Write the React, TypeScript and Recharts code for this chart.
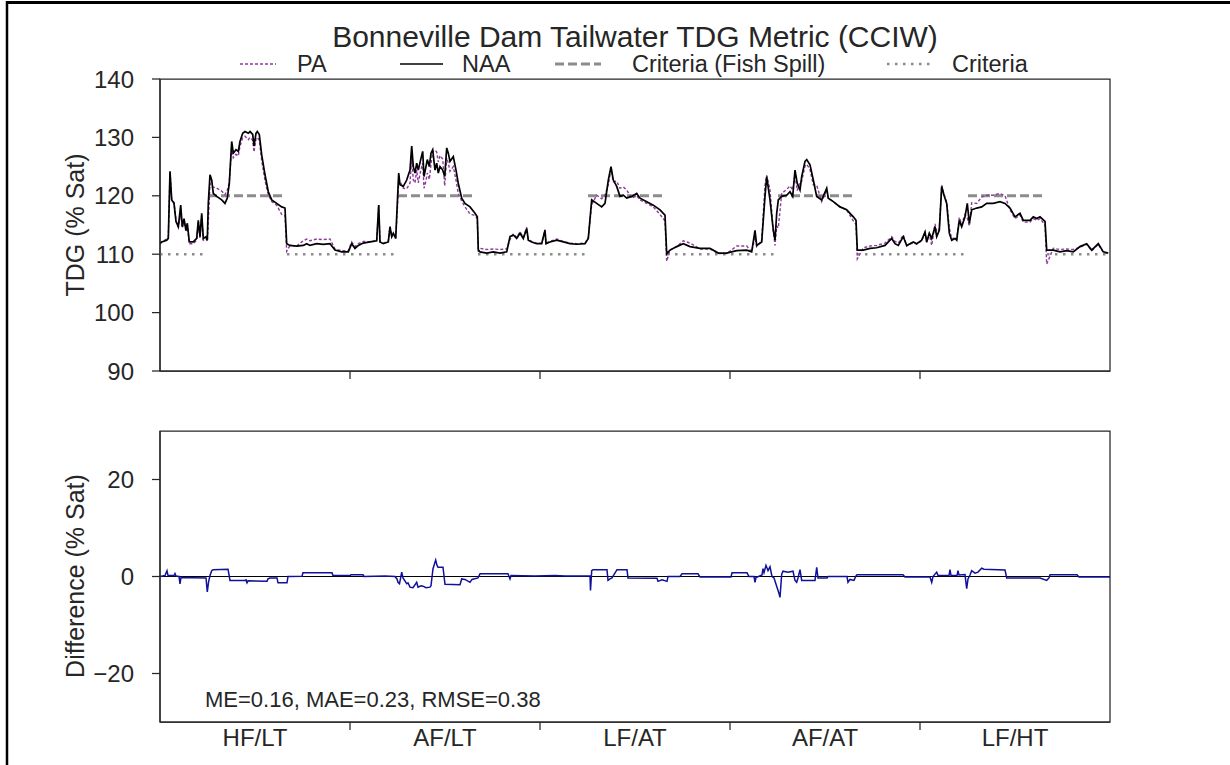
import React from 'react';
import { LineChart, Line, XAxis, YAxis, ReferenceArea, ReferenceLine } from 'recharts';

// Time index: 190 steps per scenario, 5 scenarios
const scenarioLabels = ['HF/LT', 'AF/LT', 'LF/AT', 'AF/AT', 'LF/HT'];
const scenarioBoundaries = [190, 380, 570, 760];
const scenarioCenters = [95, 285, 475, 665, 855];

const timeSteps = [
  0, 1.7, 6.7, 8.3, 10, 11.7, 14, 16, 18.3, 20.7, 22.3, 24, 26, 27.3, 29.3, 33.3, 36.7, 38.3, 40, 41.7,
  43.3, 46, 47.3, 48.3, 50, 51.7, 53.3, 56.7, 61.7, 65, 67.3, 69.3, 71.7, 73.3, 76, 78.3, 80, 82.7, 85, 88.3,
  90, 92.7, 94, 96, 97.3, 99.3, 101.7, 105, 108.3, 111.7, 116.7, 121.7, 125, 126.7, 130, 136.7, 143.3, 146.7, 150, 156.7,
  163.3, 170, 175, 181.7, 188.3, 191.7, 195, 198.3, 203.3, 210, 216.7, 218.7, 220, 223.3, 228.3, 230, 231.7, 233.3, 235.7, 237.3,
  238.7, 240, 243.3, 246.7, 250, 251.7, 253.3, 255, 256.7, 258.3, 260.7, 262.7, 264, 265.3, 267.3, 269.3, 271, 272.7, 275, 276.7,
  278.3, 280, 282.7, 284.7, 286.7, 288.3, 290, 293.3, 296, 298.3, 301.7, 305, 310, 315, 317.3, 318.3, 320, 326.7, 333.3, 340,
  346.7, 350, 353.3, 356.7, 360, 363.3, 366.7, 368.3, 371.7, 376.7, 381.7, 385, 386, 390, 396.7, 403.3, 410, 416.7, 425, 428.3,
  431.7, 436.7, 441.7, 445, 448.3, 451, 453.3, 456.7, 460, 463.3, 466.7, 471.7, 476.7, 480, 486.7, 493.3, 500, 505, 506.7, 510,
  516.7, 523.3, 530, 540, 550, 558.3, 566.7, 576.7, 586.7, 591.7, 595, 596.7, 601.7, 605, 606.7, 610, 613.3, 615, 616.7, 618.3,
  621.7, 626.7, 630, 632.7, 635, 637.3, 640, 641.7, 645, 646.7, 650, 653.3, 656.7, 661.7, 666.7, 668.3, 673.3, 680, 686.7, 693.3,
  696, 697.3, 703.3, 710, 716.7, 725, 731.7, 735, 738.3, 743.3, 746.7, 753.3, 756.7, 761.7, 765, 766.7, 769.3, 771.7, 775, 776.7,
  779.3, 781.7, 784, 786.7, 789.3, 791.7, 795, 796.7, 799.3, 801.7, 805, 807.3, 809.3, 811.7, 816.7, 821.7, 826.7, 833.3, 840, 845,
  850, 855, 860, 863.3, 870, 873.3, 876.7, 880, 885, 886.7, 893.3, 900, 906.7, 913.3, 920, 926.7, 931.7, 938.3, 943.3, 948.3,
];

const naaValues = [
  111.8, 112.1, 112.4, 112.7, 124.2, 119.3, 118.7, 115.6, 114.7, 118.4, 114.7, 116.1, 114.1, 115.3, 112.1, 112.1, 112.7, 115.8, 113.0, 117.0,
  112.7, 113.0, 112.4, 118.7, 123.6, 122.7, 120.4, 119.9, 119.3, 118.7, 119.6, 122.1, 129.3, 127.3, 127.9, 127.6, 129.3, 130.7, 131.0, 130.7,
  131.0, 130.5, 128.5, 130.7, 131.0, 130.5, 127.0, 123.6, 120.7, 119.3, 118.7, 118.1, 117.9, 111.8, 111.5, 111.4, 111.5, 111.8, 111.5, 111.8,
  111.7, 111.8, 110.7, 110.4, 110.4, 111.8, 111.0, 111.5, 111.9, 112.1, 112.3, 118.4, 112.1, 111.8, 112.1, 114.7, 113.0, 113.6, 112.7, 118.7,
  123.9, 121.9, 121.6, 122.7, 124.4, 128.5, 125.0, 123.9, 125.6, 124.4, 126.2, 127.6, 123.3, 124.4, 126.2, 125.0, 127.3, 127.9, 124.4, 125.6,
  123.9, 125.0, 124.4, 123.3, 128.2, 127.3, 125.9, 126.7, 124.4, 122.1, 119.6, 118.7, 118.1, 117.0, 116.4, 110.7, 110.4, 110.2, 110.4, 110.2,
  110.4, 113.0, 113.3, 112.7, 113.6, 112.7, 114.4, 112.4, 112.1, 111.8, 111.8, 114.1, 111.8, 112.1, 112.4, 112.1, 111.8, 111.7, 111.8, 112.7,
  119.3, 118.7, 118.1, 118.7, 122.7, 125.0, 122.7, 121.6, 119.9, 120.1, 119.6, 119.9, 120.4, 119.6, 119.0, 118.4, 117.6, 116.7, 110.1, 110.7,
  111.3, 111.8, 111.3, 111.0, 111.0, 110.2, 110.2, 110.6, 110.7, 110.4, 114.1, 111.5, 112.1, 119.9, 123.3, 119.3, 114.1, 112.4, 117.0, 119.3,
  119.9, 120.1, 120.7, 119.9, 124.4, 122.1, 121.0, 123.3, 125.9, 126.2, 125.3, 122.7, 119.9, 119.3, 121.3, 119.6, 119.0, 118.1, 117.6, 116.4,
  115.8, 110.7, 110.7, 111.0, 111.1, 111.5, 112.7, 111.8, 111.5, 113.0, 111.5, 112.1, 111.8, 112.4, 113.8, 112.1, 113.6, 112.7, 114.7, 113.0,
  114.1, 121.6, 120.1, 118.7, 113.6, 112.4, 112.7, 112.4, 115.8, 114.7, 116.4, 118.7, 115.3, 117.6, 117.9, 118.1, 118.7, 118.7, 119.0, 118.7,
  117.9, 116.4, 117.0, 115.8, 115.8, 116.4, 116.1, 116.4, 115.6, 110.7, 110.7, 110.4, 110.6, 110.4, 111.3, 111.8, 110.7, 111.8, 110.4, 110.2,
];

const paValues = [
  111.8, 112.1, 112.6, 112.9, 124.0, 119.4, 118.9, 115.8, 114.6, 116.9, 114.5, 115.8, 113.8, 115.0, 111.8, 111.8, 112.4, 115.5, 112.7, 116.7,
  112.4, 112.7, 112.2, 115.5, 122.1, 121.6, 121.5, 121.3, 120.8, 120.2, 121.0, 122.3, 128.5, 126.5, 127.1, 126.8, 128.5, 129.9, 130.2, 129.6,
  130.0, 129.5, 127.5, 129.7, 130.0, 129.5, 126.0, 122.6, 120.2, 119.0, 118.4, 116.8, 116.6, 110.5, 111.5, 111.4, 112.3, 112.6, 112.3, 112.6,
  112.5, 112.6, 110.9, 110.6, 110.6, 112.1, 111.3, 111.8, 112.2, 112.1, 112.3, 118.4, 112.1, 111.9, 112.2, 114.7, 113.0, 113.6, 112.7, 117.5,
  122.4, 122.5, 121.3, 121.2, 122.2, 126.3, 122.7, 122.2, 124.4, 122.2, 124.3, 125.6, 121.3, 122.1, 123.9, 122.8, 125.4, 127.6, 127.8, 127.5,
  125.8, 126.9, 126.3, 121.7, 126.5, 125.6, 124.2, 125.0, 122.7, 120.4, 119.1, 118.1, 116.9, 116.6, 116.1, 110.4, 111.0, 110.8, 110.9, 110.8,
  110.9, 112.5, 113.5, 112.9, 113.8, 112.9, 114.6, 112.5, 112.2, 111.9, 111.9, 114.2, 111.9, 112.2, 112.6, 112.2, 111.9, 111.8, 111.9, 112.8,
  118.5, 120.1, 119.5, 120.1, 121.9, 124.5, 122.4, 122.5, 121.3, 121.5, 121.0, 119.6, 120.0, 119.3, 118.7, 118.1, 116.8, 115.7, 108.8, 110.7,
  111.3, 112.3, 111.9, 110.9, 110.9, 110.1, 110.1, 111.4, 111.4, 110.4, 112.9, 111.3, 112.4, 121.8, 123.5, 121.0, 113.9, 111.5, 114.8, 114.5,
  120.4, 121.1, 121.7, 121.0, 123.6, 120.9, 122.4, 122.5, 125.1, 125.4, 124.5, 121.9, 121.8, 119.0, 121.0, 119.6, 119.0, 118.1, 117.6, 115.7,
  115.1, 109.2, 111.1, 111.4, 111.5, 111.9, 113.0, 112.2, 111.9, 113.3, 111.4, 112.0, 111.7, 112.3, 113.7, 112.0, 113.5, 111.5, 115.2, 113.9,
  114.3, 121.8, 120.3, 118.9, 114.5, 112.6, 112.9, 112.6, 116.3, 115.1, 116.8, 116.2, 114.8, 118.8, 118.7, 119.8, 120.1, 120.1, 120.4, 120.0,
  117.6, 116.1, 116.7, 115.5, 115.5, 116.1, 115.8, 116.1, 115.0, 108.3, 111.0, 110.8, 110.9, 110.8, 111.2, 111.7, 110.6, 111.7, 110.3, 110.1,
];

// Difference PA - NAA
const diffTimes = [
  0, 5, 7, 8, 14, 15, 16, 19, 20, 21, 46, 47.3, 48.5, 50, 51.7, 53, 68, 69, 70, 85,
  86, 87, 88, 107, 108, 110, 117, 118, 127, 128, 142, 143, 172, 173, 190, 191, 203, 204, 225, 235,
  237, 238, 239.5, 241.7, 243, 246.7, 248, 250, 253, 256.7, 258, 261, 263, 266, 270, 271, 273, 275.7, 277, 278,
  283, 285, 300, 301.7, 305, 310, 312, 318, 320, 348, 350, 351, 375, 395, 405, 430, 430.5, 431.7, 433, 447,
  448, 450, 452, 457, 467, 468, 497, 498, 502, 507, 508, 520, 522, 538, 540, 571, 572, 587, 589, 594,
  595, 596, 602, 603, 604, 606, 608, 610, 612, 614, 617, 619, 620, 621.7, 623, 628, 633, 635, 636.7, 638,
  640, 641.7, 655, 656.7, 658, 667, 668, 687, 688, 690, 694, 696, 697, 743, 745, 770, 771.7, 773, 776.7, 778,
  789, 790, 791, 797, 798, 799, 805, 806.7, 808, 810, 811.7, 815, 818, 821.7, 824, 845, 846.7, 880, 886.7, 889,
  890, 917, 919, 950,
];

const diffValues = [
  0, 0.2, 1.2, 0.2, 0.2, 0.6, 0.1, 0, -1.5, -0.2, -0.3, -3.2, -1.2, 0.2, 1.2, 1.4, 1.5, 0.4, -0.8, -0.8,
  -0.7, -1.3, -0.9, -1.0, -0.5, -0.3, -0.3, -1.3, -1.3, 0, 0.05, 0.75, 0.75, 0.2, 0.2, 0.35, 0.35, 0, 0.1, 0,
  -0.5, -1.2, -1.5, 0.9, -0.3, -1.5, -1.3, -2.2, -2.3, -1.2, -2.2, -1.9, -2.0, -2.3, -2.2, -1.9, 1.6, 3.4, 2.3, 1.9,
  1.9, -1.6, -1.7, -0.5, -0.6, -1.2, -0.6, -0.3, 0.55, 0.55, -0.5, 0.2, 0.1, 0.2, 0.1, 0.1, -2.9, 1.2, 1.4, 1.4,
  -0.8, -0.5, -0.3, 1.4, 1.4, -0.3, -0.35, -1.0, -0.7, -1.0, 0, 0, 0.55, 0.55, -0.1, -0.1, 0.75, 0.75, 0, 0,
  -1.2, -0.2, 0.3, 1.6, 0.8, 2.3, 1.2, 2.0, 0, -0.3, -2.2, -3.5, -4.3, 0.5, 1.1, 0.9, 1.1, -0.8, -1.2, -0.3,
  1.4, -0.8, -0.8, 1.9, -0.3, -0.3, 0, 0, -1.2, -0.6, -0.8, 0.1, 0.35, 0.35, -0.1, -0.1, -1.2, 0, 0.9, 0.2,
  0.2, 1.4, 0.2, 0.2, 1.2, 0.3, 0.4, -2.5, -0.5, 0.3, 1.2, 0.7, 0.9, 1.7, 1.5, 1.35, -0.3, -0.3, -0.8, -0.3,
  0.35, 0.35, -0.1, -0.1,
];

// Criteria periods (time index)
const fishSpillStarts = [48, 238, 428, 618, 808];
const fishSpillEnds = [125, 315, 505, 695, 885];
const fishSpillLevel = 120;
const criteriaStarts = [0, 127, 318, 507, 697, 887];
const criteriaEnds = [45, 237, 427, 617, 807, 950];
const criteriaLevel = 110;

const metricsText = 'ME=0.16, MAE=0.23, RMSE=0.38';

const mainData = timeSteps.map((t, i) => ({ t, pa: paValues[i], naa: naaValues[i] }));
const diffData = diffTimes.map((t, i) => ({ t, diff: diffValues[i] }));

function segments(starts: number[], ends: number[], level: number) {
  const out: { t: number; v: number | null }[] = [];
  starts.forEach((s, i) => {
    out.push({ t: s, v: level });
    out.push({ t: ends[i], v: level });
    if (i < starts.length - 1) out.push({ t: ends[i] + 0.5, v: null });
  });
  return out;
}
const fishSpillData = segments(fishSpillStarts, fishSpillEnds, fishSpillLevel);
const criteriaData = segments(criteriaStarts, criteriaEnds, criteriaLevel);

const FONT = '"Liberation Sans", Arial, Helvetica, sans-serif';
const TEXT = '#262626';
const SPINE = '#262626';

const xTicks = [...scenarioCenters, ...scenarioBoundaries].sort((a, b) => a - b);

const makeXTick = (showLabels: boolean) => (props: any) => {
  const { x, y, payload } = props;
  const v = payload.value;
  const bi = scenarioBoundaries.indexOf(v);
  if (bi >= 0) {
    return <line x1={x} x2={x} y1={y - 8} y2={y} stroke={SPINE} strokeWidth={1.25} />;
  }
  const ci = scenarioCenters.indexOf(v);
  if (!showLabels || ci < 0) return <g />;
  return (
    <text x={x} y={y + 16} textAnchor="middle" fill={TEXT} fontSize={24} fontFamily={FONT}>
      {scenarioLabels[ci]}
    </text>
  );
};

const fmtDiff = (v: number) => (v < 0 ? '\u2212' + Math.abs(v) : String(v));

export default function App() {
  return (
    <div style={{ position: 'absolute', left: 0, top: 0, width: 1230, height: 765, background: '#fff', fontFamily: FONT }}>
      <div style={{ position: 'absolute', left: 0, top: 0 }}>
        <LineChart width={1230} height={410} margin={{ top: 79, right: 120, bottom: 9, left: 100 }}>
          <XAxis
            dataKey="t"
            type="number"
            domain={[0, 950]}
            ticks={xTicks}
            interval={0}
            allowDataOverflow
            height={30}
            tickLine={false}
            tickSize={8}
            tickMargin={0}
            tick={makeXTick(false)}
            axisLine={{ stroke: SPINE, strokeWidth: 1.25 }}
          />
          <YAxis
            type="number"
            domain={[90, 140]}
            ticks={[90, 100, 110, 120, 130, 140]}
            interval={0}
            width={60}
            tickSize={8}
            tickMargin={18}
            tickLine={{ stroke: SPINE, strokeWidth: 1.25 }}
            axisLine={{ stroke: SPINE, strokeWidth: 1.25 }}
            tick={{ fill: TEXT, fontSize: 24, fontFamily: FONT }}
          />
          <Line data={criteriaData} dataKey="v" stroke="#8c8c8c" strokeWidth={2.6} strokeDasharray="2.5 5.5" dot={false} isAnimationActive={false} connectNulls={false} />
          <Line data={fishSpillData} dataKey="v" stroke="#8c8c8c" strokeWidth={3} strokeDasharray="9 4" dot={false} isAnimationActive={false} connectNulls={false} />
          <Line data={mainData} dataKey="pa" stroke="#8e3a9d" strokeWidth={1.4} strokeDasharray="3 2" dot={false} isAnimationActive={false} />
          <Line data={mainData} dataKey="naa" stroke="#000" strokeWidth={1.7} dot={false} isAnimationActive={false} />
          <ReferenceArea x1={0} x2={950} y1={90} y2={140} fill="none" fillOpacity={0} stroke={SPINE} strokeWidth={1.25} />
        </LineChart>
      </div>
      <div style={{ position: 'absolute', left: 0, top: 400 }}>
        <LineChart width={1230} height={365} margin={{ top: 31, right: 120, bottom: 13, left: 100 }}>
          <XAxis
            dataKey="t"
            type="number"
            domain={[0, 950]}
            ticks={xTicks}
            interval={0}
            allowDataOverflow
            height={30}
            tickLine={false}
            tickSize={8}
            tickMargin={0}
            tick={makeXTick(true)}
            axisLine={{ stroke: SPINE, strokeWidth: 1.25 }}
          />
          <YAxis
            type="number"
            domain={[-30, 30]}
            ticks={[-20, 0, 20]}
            interval={0}
            width={60}
            tickSize={8}
            tickMargin={18}
            tickFormatter={fmtDiff}
            tickLine={{ stroke: SPINE, strokeWidth: 1.25 }}
            axisLine={{ stroke: SPINE, strokeWidth: 1.25 }}
            tick={{ fill: TEXT, fontSize: 24, fontFamily: FONT }}
          />
          <ReferenceLine y={0} stroke="#000" strokeWidth={1.2} />
          <Line data={diffData} dataKey="diff" stroke="#10109a" strokeWidth={1.5} dot={false} isAnimationActive={false} />
          <ReferenceArea x1={0} x2={950} y1={-30} y2={30} fill="none" fillOpacity={0} stroke={SPINE} strokeWidth={1.25} />
        </LineChart>
      </div>
      <svg width={1230} height={765} style={{ position: 'absolute', left: 0, top: 0, pointerEvents: 'none' }}>
        <line x1={7} x2={1230} y1={2.5} y2={2.5} stroke="#000" strokeWidth={3} />
        <line x1={7} x2={7} y1={1} y2={765} stroke="#000" strokeWidth={2.5} />
        <text x={635} y={47} textAnchor="middle" fontSize={30} fill={TEXT} fontFamily={FONT}>
          Bonneville Dam Tailwater TDG Metric (CCIW)
        </text>
        <line x1={240} x2={276} y1={64} y2={64} stroke="#8e3a9d" strokeWidth={1.4} strokeDasharray="3 2" />
        <text x={297} y={72} fontSize={23.5} fill={TEXT} fontFamily={FONT}>PA</text>
        <line x1={400} x2={443} y1={64} y2={64} stroke="#000" strokeWidth={1.7} />
        <text x={462} y={72} fontSize={23.5} fill={TEXT} fontFamily={FONT}>NAA</text>
        <line x1={555} x2={601} y1={64} y2={64} stroke="#8c8c8c" strokeWidth={3} strokeDasharray="9 4" />
        <text x={632} y={72} fontSize={23.5} fill={TEXT} fontFamily={FONT}>Criteria (Fish Spill)</text>
        <line x1={887} x2={931} y1={64} y2={64} stroke="#8c8c8c" strokeWidth={2.6} strokeDasharray="2.5 5.5" />
        <text x={952} y={72} fontSize={23.5} fill={TEXT} fontFamily={FONT}>Criteria</text>
        <text transform="translate(84,225) rotate(-90)" textAnchor="middle" fontSize={25} fill={TEXT} fontFamily={FONT}>
          TDG (% Sat)
        </text>
        <text transform="translate(84,576) rotate(-90)" textAnchor="middle" fontSize={25} fill={TEXT} fontFamily={FONT}>
          Difference (% Sat)
        </text>
        <text x={205} y={707} fontSize={22} fill={TEXT} fontFamily={FONT}>{metricsText}</text>
      </svg>
    </div>
  );
}
